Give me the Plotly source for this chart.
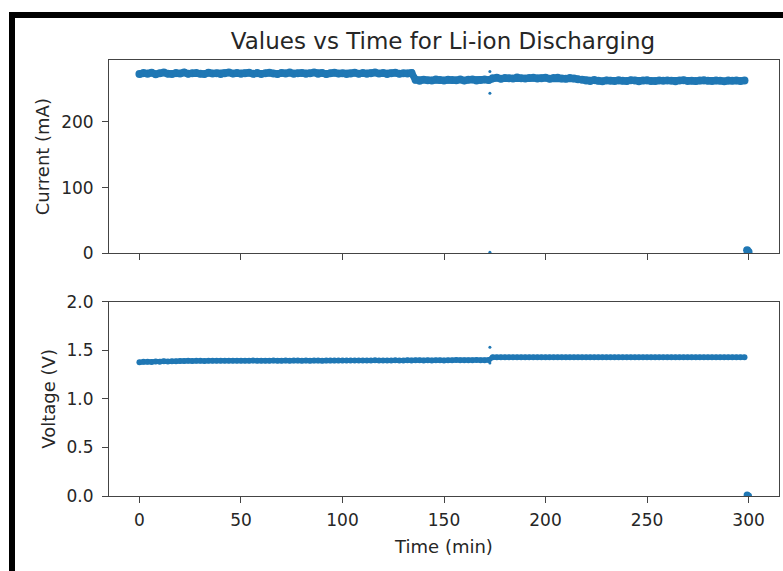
import plotly.graph_objects as go
from plotly.subplots import make_subplots

# ---------------- data ----------------
time_min = [
    0, 2, 4, 6, 8, 10, 12, 14, 16, 18, 20, 22, 24, 26, 28, 30, 32, 34, 36, 38,
    40, 42, 44, 46, 48, 50, 52, 54, 56, 58, 60, 62, 64, 66, 68, 70, 72, 74, 76, 78,
    80, 82, 84, 86, 88, 90, 92, 94, 96, 98, 100, 102, 104, 106, 108, 110, 112, 114, 116, 118,
    120, 122, 124, 126, 128, 130, 132, 134, 136, 138, 140, 142, 144, 146, 148, 150, 152, 154, 156, 158,
    160, 162, 164, 166, 168, 170, 172, 174, 176, 178, 180, 182, 184, 186, 188, 190, 192, 194, 196, 198,
    200, 202, 204, 206, 208, 210, 212, 214, 216, 218, 220, 222, 224, 226, 228, 230, 232, 234, 236, 238,
    240, 242, 244, 246, 248, 250, 252, 254, 256, 258, 260, 262, 264, 266, 268, 270, 272, 274, 276, 278,
    280, 282, 284, 286, 288, 290, 292, 294, 296, 298,
]

current_ma = [
    272.8, 274.1, 273.0, 274.6, 272.5, 273.9, 274.8, 273.2, 272.7, 274.3,
    273.6, 275.0, 272.9, 273.8, 274.4, 273.1, 272.6, 274.7, 273.5, 274.0,
    272.8, 273.7, 275.1, 273.3, 274.2, 272.9, 273.8, 274.6, 273.0, 274.1,
    272.7, 273.9, 274.5, 273.4, 272.8, 274.3, 273.6, 274.9, 273.1, 273.8,
    274.4, 272.9, 273.7, 275.0, 273.2, 274.1, 272.6, 273.9, 274.7, 273.3,
    274.0, 272.8, 273.6, 274.5, 273.1, 274.2, 272.9, 273.8, 274.8, 273.4,
    274.1, 272.7, 273.9, 274.6, 273.2, 274.0, 273.5, 274.3,
    263.8, 262.6, 264.1, 263.2, 262.9, 264.4, 263.5, 262.8, 264.0, 263.6,
    263.1, 264.3, 262.7, 263.9, 264.5, 263.0, 263.7, 264.2, 263.4,
    266.2, 267.0, 265.5, 266.8, 266.1, 265.7, 267.2, 266.4, 265.9, 266.6,
    267.1, 265.8, 266.3, 266.9, 265.6, 266.5, 267.0, 266.0, 265.4, 266.7,
    265.9, 264.8, 263.9,
    262.9, 262.1, 263.4, 262.5, 261.8, 263.0, 262.6, 261.9, 263.2, 262.4,
    262.0, 263.1, 262.7, 261.7, 262.8, 263.3, 262.2, 261.9, 262.9, 262.5,
    263.0, 262.3, 261.8, 262.7, 263.2, 262.1, 262.6, 261.9, 262.8, 263.1,
    262.4, 262.0, 262.9, 262.6, 261.8, 263.0, 262.3, 262.7, 262.2, 262.8,
]

voltage_v = [
    1.378, 1.381, 1.383, 1.380, 1.385, 1.382, 1.386, 1.384, 1.388, 1.386, 1.389,
    1.390, 1.391, 1.390, 1.392, 1.391, 1.390, 1.392, 1.391, 1.393, 1.392,
    1.391, 1.392, 1.393, 1.392, 1.391, 1.393, 1.392, 1.394, 1.393, 1.392,
    1.393, 1.392, 1.394, 1.393, 1.392, 1.394, 1.393, 1.395, 1.394, 1.393,
    1.394, 1.393, 1.395, 1.394, 1.393, 1.395, 1.394, 1.396, 1.395, 1.394,
    1.395, 1.394, 1.396, 1.395, 1.394, 1.396, 1.395, 1.397, 1.396, 1.395,
    1.396, 1.395, 1.397, 1.396, 1.395, 1.397, 1.396, 1.398, 1.397, 1.396,
    1.397, 1.396, 1.398, 1.397, 1.396, 1.398, 1.397, 1.399, 1.398, 1.397,
    1.398, 1.397, 1.399, 1.398, 1.397, 1.399,
    1.428, 1.427, 1.429, 1.428, 1.427, 1.428, 1.429, 1.427, 1.428, 1.428,
    1.427, 1.428, 1.429, 1.428, 1.427, 1.429, 1.428, 1.427, 1.428, 1.429,
    1.428, 1.427, 1.428, 1.429, 1.427, 1.428, 1.428, 1.429, 1.427, 1.428,
    1.429, 1.428, 1.427, 1.428, 1.429, 1.428, 1.427, 1.428, 1.429, 1.428,
    1.427, 1.428, 1.429, 1.427, 1.428, 1.428, 1.429, 1.428, 1.427, 1.428,
    1.429, 1.428, 1.427, 1.428, 1.429, 1.428, 1.427, 1.428, 1.429, 1.428,
    1.428, 1.427, 1.428,
]

# isolated glitch readings
glitch_time = [172.6, 172.6, 172.6]
glitch_current = [276.5, 243.5, 1.5]
glitch_voltage = [1.53, 1.37, 1.40]

# end of discharge readings
end_time = [299.3, 300.0]
end_current = [4.5, 2.0]
end_voltage = [0.01, 0.0]

x_ticks = [0, 50, 100, 150, 200, 250, 300]
cur_ticks = [0, 100, 200]
volt_ticks = [0.0, 0.5, 1.0, 1.5, 2.0]

BLUE = "#1f77b4"
FONT = "DejaVu Sans"
TXT = "#262626"
AX = "#444444"

fig = make_subplots(rows=2, cols=1, shared_xaxes=True, vertical_spacing=0.111)

def add(series_t, series_y, row, size, joined=False):
    fig.add_trace(go.Scatter(x=series_t, y=series_y,
                             mode="lines+markers" if joined else "markers",
                             line=dict(color=BLUE, width=size - 1),
                             marker=dict(color=BLUE, size=size, line=dict(width=0)),
                             showlegend=False, hoverinfo="x+y"), row=row, col=1)

add(time_min, current_ma, 1, 8, joined=True)
add(glitch_time, glitch_current, 1, 3)
add(end_time, end_current, 1, 8)
add(time_min, voltage_v, 2, 6, joined=True)
add(glitch_time, glitch_voltage, 2, 3)
add(end_time, end_voltage, 2, 7)

axis_common = dict(showline=True, linecolor=AX, linewidth=1, mirror=True,
                   ticks="outside", ticklen=6, tickcolor=AX, tickwidth=1,
                   showgrid=False, zeroline=False,
                   tickfont=dict(family=FONT, size=17, color=TXT))

fig.update_xaxes(range=[-15, 315], tickvals=x_ticks, ticklabelstandoff=3, **axis_common)
fig.update_xaxes(title=dict(text="Time (min)", font=dict(family=FONT, size=18, color=TXT),
                            standoff=10), row=2, col=1)
fig.update_yaxes(range=[0, 294], tickvals=cur_ticks, ticklabelstandoff=5,
                 title=dict(text="Current (mA)", font=dict(family=FONT, size=18, color=TXT),
                            standoff=6), row=1, col=1, **axis_common)
fig.update_yaxes(range=[0, 2.0], tickvals=volt_ticks, tickformat=".1f", ticklabelstandoff=5,
                 title=dict(text="Voltage (V)", font=dict(family=FONT, size=18, color=TXT),
                            standoff=6), row=2, col=1, **axis_common)

L, R, T, B = 109, 4, 60, 75
W, H = 783, 571
pw, ph = W - L - R, H - T - B

def px_x(p):
    return (p - L) / pw

def px_y(p):
    return (H - B - p) / ph

fig.update_layout(
    width=W, height=H,
    margin=dict(l=L, r=R, t=T, b=B),
    paper_bgcolor="white", plot_bgcolor="white",
    title=dict(text="Values vs Time for Li-ion Discharging",
               xref="container", x=443 / W, xanchor="center",
               yref="container", y=1 - 41 / H, yanchor="middle",
               font=dict(family=FONT, size=23, color=TXT)),
    shapes=[
        dict(type="rect", xref="paper", yref="paper",
             x0=px_x(9), x1=px_x(15), y0=px_y(571), y1=px_y(12),
             fillcolor="black", line=dict(width=0), layer="above"),
        dict(type="rect", xref="paper", yref="paper",
             x0=px_x(9), x1=px_x(783), y0=px_y(18), y1=px_y(12),
             fillcolor="black", line=dict(width=0), layer="above"),
    ],
)
fig.layout.yaxis.domain = [px_y(253.3), 1.0]
fig.layout.yaxis2.domain = [0.0, px_y(301.7)]

fig.write_html("out.html")
